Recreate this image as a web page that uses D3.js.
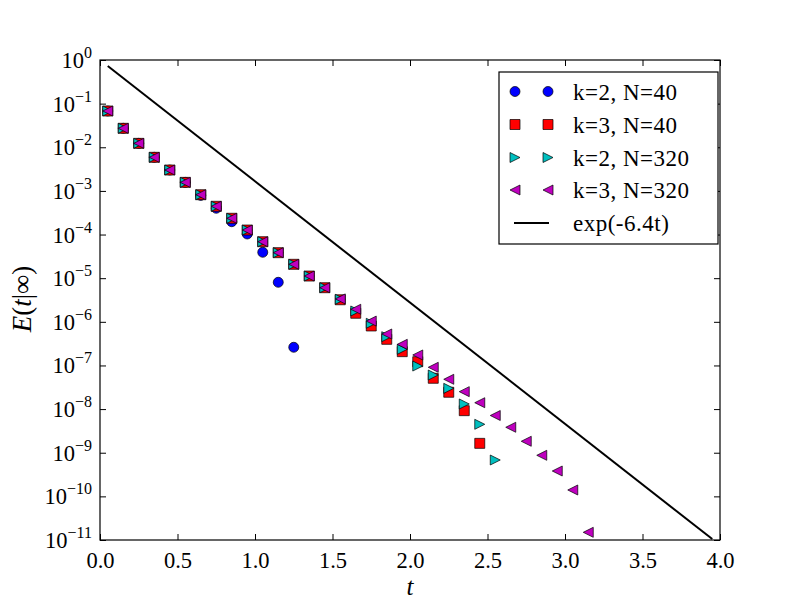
<!DOCTYPE html>
<html><head><meta charset="utf-8">
<script src="https://cdn.jsdelivr.net/npm/d3@7"></script>
<style>html,body{margin:0;padding:0;background:#fff;}svg{display:block;} text{font-family:"Liberation Serif","Times New Roman",serif;}</style>
</head><body>
<script>
// ---- data ----
const tK2N40 = [0.05,0.15,0.25,0.35,0.45,0.55,0.65,0.75,0.85,0.95,1.05,1.15,1.25];
const eK2N40 = [6.78e-2,2.72e-2,1.23e-2,5.89e-3,3.01e-3,1.57e-3,7.9e-4,4.0e-4,1.97e-4,1.03e-4,3.92e-5,8.05e-6,2.61e-7];

const tK3N40 = [0.05,0.15,0.25,0.35,0.45,0.55,0.65,0.75,0.85,0.95,1.05,1.15,1.25,1.35,1.45,1.55,1.65,1.75,1.85,1.95,2.05,2.15,2.25,2.35,2.45];
const eK3N40 = [6.78e-2,2.72e-2,1.23e-2,5.89e-3,3.01e-3,1.57e-3,8.18e-4,4.44e-4,2.36e-4,1.27e-4,6.85e-5,3.84e-5,2.08e-5,1.12e-5,6.05e-6,3.2e-6,1.57e-6,8.02e-7,3.97e-7,2.07e-7,1.22e-7,5.08e-8,2.43e-8,9.2e-9,1.64e-9];

const tK2N320 = [0.05,0.15,0.25,0.35,0.45,0.55,0.65,0.75,0.85,0.95,1.05,1.15,1.25,1.35,1.45,1.55,1.65,1.75,1.85,1.95,2.05,2.15,2.25,2.35,2.45,2.55];
const eK2N320 = [6.78e-2,2.72e-2,1.23e-2,5.89e-3,3.01e-3,1.57e-3,8.18e-4,4.44e-4,2.36e-4,1.27e-4,6.85e-5,3.84e-5,2.08e-5,1.12e-5,6.05e-6,3.28e-6,1.77e-6,9.25e-7,4.56e-7,2.34e-7,9.7e-8,6.04e-8,2.99e-8,1.31e-8,4.48e-9,6.81e-10];

const tK3N320 = [0.05,0.15,0.25,0.35,0.45,0.55,0.65,0.75,0.85,0.95,1.05,1.15,1.25,1.35,1.45,1.55,1.65,1.75,1.85,1.95,2.05,2.15,2.25,2.35,2.45,2.55,2.65,2.75,2.85,2.95,3.05,3.15];
const eK3N320 = [6.78e-2,2.72e-2,1.23e-2,5.89e-3,3.01e-3,1.57e-3,8.18e-4,4.44e-4,2.36e-4,1.27e-4,6.85e-5,3.84e-5,2.08e-5,1.12e-5,6.05e-6,3.35e-6,1.94e-6,1.04e-6,5.26e-7,3.05e-7,1.74e-7,9.08e-8,4.82e-8,2.51e-8,1.40e-8,7.13e-9,3.83e-9,1.83e-9,8.73e-10,3.81e-10,1.40e-10,1.50e-11];

const rate = 6.4;
const tLine = [0.05, 3.95];

const xTickValues = [0,0.5,1.0,1.5,2.0,2.5,3.0,3.5,4.0];
const xTickLabels = ["0.0","0.5","1.0","1.5","2.0","2.5","3.0","3.5","4.0"];
const yTickExps = [0,-1,-2,-3,-4,-5,-6,-7,-8,-9,-10,-11];

const legendLabels = ["k=2, N=40","k=3, N=40","k=2, N=320","k=3, N=320","exp(-6.4t)"];

// ---- layout ----
const W = 800, H = 600;
const L = 100, R = 720, T = 60, B = 540;

const svg = d3.select("body").append("svg").attr("width", W).attr("height", H);

const x = d3.scaleLinear().domain([0,4]).range([L,R]);
const y = d3.scaleLog().domain([1e-11,1]).range([B,T]);

// custom triangle symbols (matplotlib-like '>' and '<')
const triRight = { draw(ctx, size){ const r = Math.sqrt(size)/2; ctx.moveTo(r,0); ctx.lineTo(-r,-r); ctx.lineTo(-r,r); ctx.closePath(); } };
const triLeft  = { draw(ctx, size){ const r = Math.sqrt(size)/2; ctx.moveTo(-r,0); ctx.lineTo(r,-r); ctx.lineTo(r,r); ctx.closePath(); } };

const series = [
  {t:tK2N40,  e:eK2N40,  color:"#0000ff", sym:d3.symbolCircle, size:Math.PI*25},
  {t:tK3N40,  e:eK3N40,  color:"#ff0000", sym:d3.symbolSquare, size:100},
  {t:tK2N320, e:eK2N320, color:"#00bfbf", sym:triRight, size:100},
  {t:tK3N320, e:eK3N320, color:"#bf00bf", sym:triLeft, size:100}
];

svg.append("defs").append("clipPath").attr("id","clip")
  .append("rect").attr("x",L).attr("y",T).attr("width",R-L).attr("height",B-T);

const plot = svg.append("g").attr("clip-path","url(#clip)");

// exp line
const lineData = tLine.map(t => [t, Math.exp(-rate*t)]);
plot.append("path")
  .attr("d", d3.line().x(d=>x(d[0])).y(d=>y(d[1]))(lineData))
  .attr("fill","none").attr("stroke","#000").attr("stroke-width",2);

series.forEach(s => {
  const pts = s.t.map((t,i)=>[t, s.e[i]]);
  plot.append("g").selectAll("path").data(pts).join("path")
    .attr("transform", d=>`translate(${x(d[0])},${y(d[1])})`)
    .attr("d", d3.symbol().type(s.sym).size(s.size))
    .attr("fill", s.color).attr("stroke","#000").attr("stroke-width",0.7);
});

// axes: ticks inward on all sides
const tickLen = 6;
const xb = d3.axisBottom(x).tickValues(xTickValues).tickSize(-tickLen).tickFormat((d,i)=>xTickLabels[i]).tickPadding(12);
const xt = d3.axisTop(x).tickValues(xTickValues).tickSize(-tickLen).tickFormat("");
const yTickVals = yTickExps.map(e => Math.pow(10,e));
const yl = d3.axisLeft(y).tickValues(yTickVals).tickSize(-tickLen).tickFormat("");
const yr = d3.axisRight(y).tickValues(yTickVals).tickSize(-tickLen).tickFormat("");

function styleAxis(g){
  g.select(".domain").remove();
  g.selectAll(".tick line").attr("stroke","#000").attr("stroke-width",1);
  g.attr("font-family", null);
}
const gxb = svg.append("g").attr("transform",`translate(0,${B})`).call(xb).call(styleAxis);
gxb.selectAll(".tick text").attr("font-size",22.5).attr("fill","#000").attr("dy","0.71em");
svg.append("g").attr("transform",`translate(0,${T})`).call(xt).call(styleAxis);
svg.append("g").attr("transform",`translate(${L},0)`).call(yl).call(styleAxis);
svg.append("g").attr("transform",`translate(${R},0)`).call(yr).call(styleAxis);

// y tick labels with superscripts
const ylab = svg.append("g");
yTickExps.forEach(e => {
  const yy = y(Math.pow(10,e));
  const txt = ylab.append("text").attr("x", 92).attr("y", yy+8)
    .attr("text-anchor","end").attr("font-size",22.5).attr("fill","#000");
  txt.append("tspan").text("10");
  txt.append("tspan").attr("dy",-10).attr("font-size",16).text(e===0?"0":"\u2212"+Math.abs(e));
});

// frame
svg.append("rect").attr("x",L).attr("y",T).attr("width",R-L).attr("height",B-T)
  .attr("fill","none").attr("stroke","#000").attr("stroke-width",1.2);

// axis labels
svg.append("text").attr("x",(L+R)/2).attr("y",595).attr("text-anchor","middle")
  .attr("font-size",25).attr("font-style","italic").text("t");
const ylabT = svg.append("text").attr("transform","translate(31,299) rotate(-90)")
  .attr("text-anchor","middle").attr("font-size",27);
ylabT.append("tspan").attr("font-style","italic").text("E");
ylabT.append("tspan").text("(");
ylabT.append("tspan").attr("font-style","italic").text("t");
ylabT.append("tspan").text("|\u221E)");

// legend
const lg = svg.append("g");
lg.append("rect").attr("x",499).attr("y",72).attr("width",219).attr("height",172)
  .attr("fill","#fff").attr("stroke","#000").attr("stroke-width",1.2);
const rowY = [91.5,124.5,157.5,190,223];
series.forEach((s,i) => {
  [515,548].forEach(mx => {
    lg.append("path").attr("transform",`translate(${mx},${rowY[i]})`)
      .attr("d", d3.symbol().type(s.sym).size(s.size))
      .attr("fill", s.color).attr("stroke","#000").attr("stroke-width",0.7);
  });
});
lg.append("line").attr("x1",514).attr("x2",549).attr("y1",rowY[4]).attr("y2",rowY[4])
  .attr("stroke","#000").attr("stroke-width",2);
legendLabels.forEach((lab,i) => {
  lg.append("text").attr("x",573).attr("y",rowY[i]+8)
    .attr("font-size",23).attr("letter-spacing",0.5).attr("fill","#000").text(lab);
});
</script>
</body></html>
